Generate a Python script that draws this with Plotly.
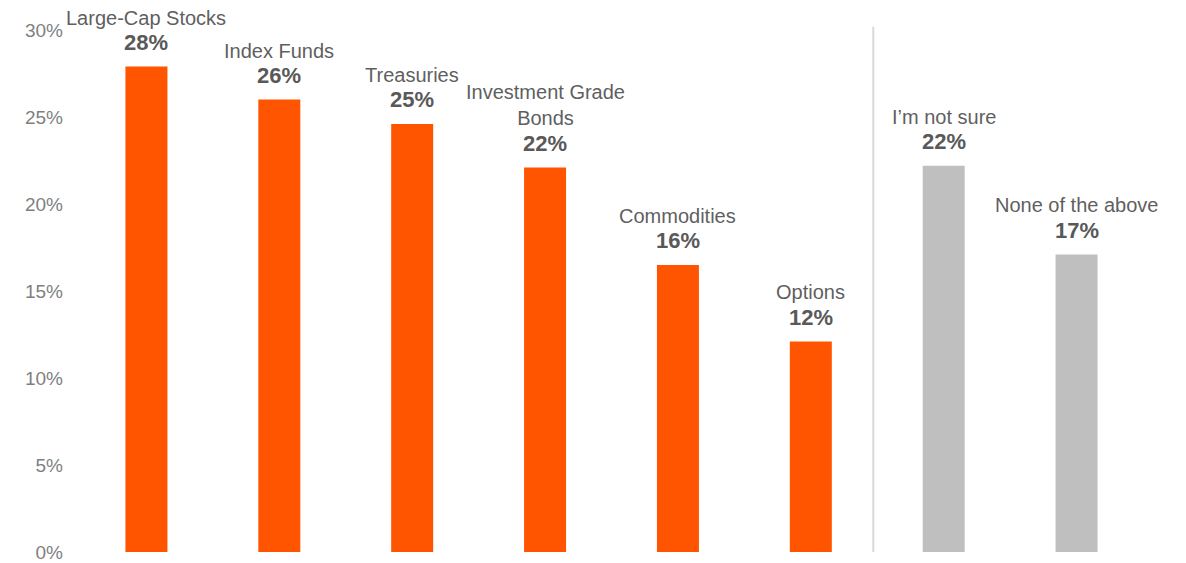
import plotly.graph_objects as go

# Survey responses: share of respondents choosing each asset
categories = ["Large-Cap Stocks", "Index Funds", "Treasuries", "Investment Grade<br>Bonds",
              "Commodities", "Options", "I’m not sure", "None of the above"]
values = [27.9, 26.0, 24.6, 22.1, 16.5, 12.1, 22.2, 17.1]
bar_colors = ["#FF5500"] * 6 + ["#BFBFBF"] * 2
tick_vals = [0, 5, 10, 15, 20, 25, 30]
tick_text = ["0%", "5%", "10%", "15%", "20%", "25%", "30%"]

FONT = "Arial, Liberation Sans, sans-serif"
x_idx = list(range(len(categories)))

fig = go.Figure(go.Bar(
    x=x_idx, y=values, width=0.316,
    marker=dict(color=bar_colors, line=dict(width=0)),
    hoverinfo="skip",
))

annotations = []
for i, (name, v) in enumerate(zip(categories, values)):
    two_line = "<br>" in name
    annotations.append(dict(
        x=i, y=v, xref="x", yref="y", text=f"<b>{v:.0f}%</b>", showarrow=False,
        yanchor="middle", yshift=24, font=dict(family=FONT, size=22, color="#595959"),
    ))
    annotations.append(dict(
        x=i, y=v, xref="x", yref="y", text=name, showarrow=False,
        yanchor="middle", yshift=62 if two_line else 49, align="center",
        font=dict(family=FONT, size=20, color="#5F5F5F"),
    ))

fig.update_layout(
    width=1186, height=563,
    margin=dict(l=80, r=43, t=30, b=11),
    plot_bgcolor="white", paper_bgcolor="white",
    showlegend=False,
    annotations=annotations,
    shapes=[dict(type="line", xref="x", yref="paper", x0=5.47, x1=5.47, y0=0, y1=1.006,
                 line=dict(color="#D9D9D9", width=2))],
    xaxis=dict(range=[-0.5, len(categories) - 0.5], showticklabels=False, showgrid=False,
               zeroline=False, showline=False, ticks="", automargin=False),
    yaxis=dict(range=[0, 30], tickvals=tick_vals, ticktext=tick_text, showgrid=False,
               zeroline=False, showline=False, ticks="", ticklabelstandoff=16,
               ticklabeloverflow="allow", automargin=False,
               tickfont=dict(family=FONT, size=19, color="#7F7F7F")),
)

fig.write_html("out.html")
